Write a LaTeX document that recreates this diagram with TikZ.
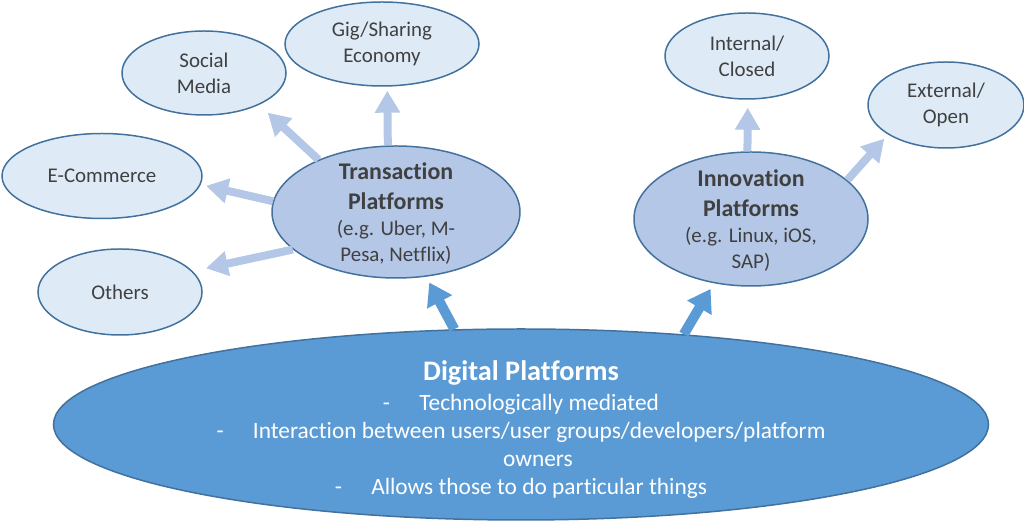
\documentclass[tikz,border=0pt]{standalone}
\usepackage{fontspec}
\setmainfont{Carlito}[Ligatures=NoCommon]
\usetikzlibrary{shapes.geometric,arrows.meta}
\definecolor{rimblue}{HTML}{41719C}
\definecolor{paleblue}{HTML}{DEEBF7}
\definecolor{midblue}{HTML}{B4C7E7}
\definecolor{deepblue}{HTML}{5B9BD5}
\definecolor{labelgray}{HTML}{404040}
\newcommand\hubtitle[1]{{\fontsize{13.6}{17}\selectfont\bfseries #1}}
\newcommand\digtitle[1]{{\fontsize{16.1}{19}\selectfont\bfseries\rule{0pt}{16.9pt}#1}}
\newcommand\bullitem{-\hspace{1.25em}}
\begin{document}
\begin{tikzpicture}[x=1cm,y=1cm,
  leaf/.style={ellipse,draw=rimblue,line width=0.85pt,fill=paleblue,inner xsep=0pt,inner ysep=0pt,
    align=center,text=labelgray,font=\fontsize{11.9}{14.7}\selectfont},
  hub/.style={leaf,fill=midblue,inner ysep=-0.6cm},
  base/.style={leaf,fill=deepblue,text=white,inner ysep=-0.8cm,font=\fontsize{13.3}{15.9}\selectfont},
  thinarrow/.style={draw=midblue,line width=0.16cm,-{Triangle[length=0.44cm,width=0.48cm]}},
  fatarrow/.style={draw=deepblue,line width=0.2cm,-{Triangle[length=0.44cm,width=0.54cm]}}]
\useasboundingbox (0,0) rectangle (20.48,10.48);

\node[leaf,minimum width=3.88cm,minimum height=1.68cm] (gig) at (7.64,9.60) {Gig/Sharing\\Economy};
\node[leaf,minimum width=3.28cm,minimum height=1.68cm] (social) at (4.08,9.02) {Social\\Media};
\node[leaf,minimum width=4.00cm,minimum height=1.70cm] (ecom) at (2.04,6.96) {E-Commerce};
\node[leaf,minimum width=3.28cm,minimum height=1.72cm] (others) at (2.40,4.64) {Others};
\node[hub,minimum width=4.96cm,minimum height=2.64cm] (trans) at (7.92,6.24)
  {\hubtitle{\rule{0pt}{11.2pt}Transaction}\\[2.3pt]\hubtitle{Platforms}\\(e.g. Uber, M-\\Pesa, Netflix)};

\node[leaf,minimum width=3.28cm,minimum height=1.72cm] (internal) at (14.94,9.36) {Internal/\\Closed};
\node[leaf,minimum width=3.12cm,minimum height=1.72cm] (external) at (18.92,8.38) {External/\\Open};
\node[hub,minimum width=4.68cm,minimum height=2.68cm] (innov) at (15.02,6.10)
  {\hubtitle{\rule{0pt}{11.2pt}Innovation}\\[2.3pt]\hubtitle{Platforms}\\(e.g. Linux, iOS,\\SAP)};

\node[base,minimum width=18.7cm,minimum height=3.82cm] (digital) at (10.42,1.99)
  {\digtitle{Digital Platforms}\\[1.1pt]\bullitem Technologically mediated\\
   \bullitem Interaction between users/user groups/developers/platform\\
   \hspace*{1.45em}owners\\ \bullitem Allows those to do particular things};

\draw[thinarrow,shorten >=0.08cm] (trans.97) -- (gig.-83);
\draw[thinarrow,shorten >=0.23cm] (trans.146) -- (social.-30);
\draw[thinarrow,shorten >=0.11cm] (trans.175) -- (ecom.-5);
\draw[thinarrow,shorten >=0.27cm] (trans.200) -- (others.16);
\draw[thinarrow,shorten >=0.16cm] (innov.93) -- (internal.-89);
\draw[thinarrow,shorten >=0.11cm] (innov.22) -- (external.207);

\draw[fatarrow,shorten >=0.13cm] (digital.125) -- (trans.-65);
\draw[fatarrow,shorten >=0.13cm] (digital.29) -- (innov.240);
\end{tikzpicture}
\end{document}
